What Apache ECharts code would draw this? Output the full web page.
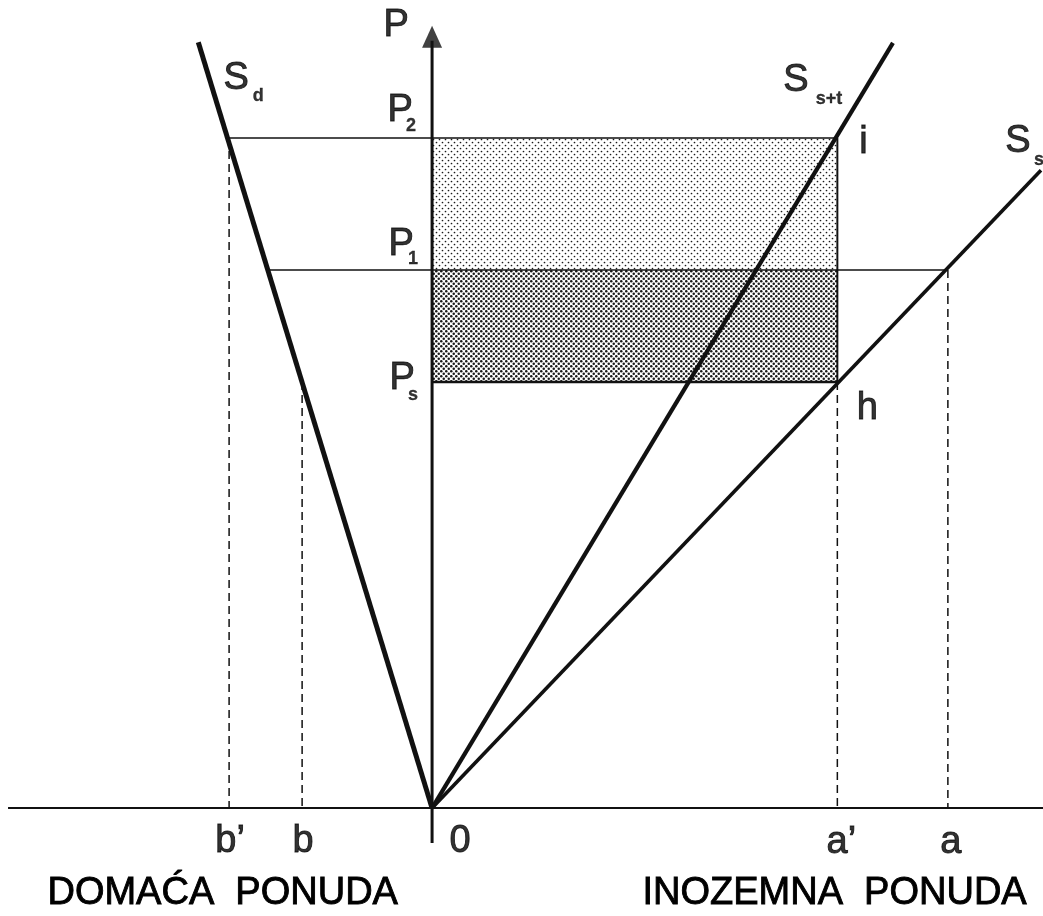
<!DOCTYPE html>
<html><head><meta charset="utf-8">
<script src="https://cdn.jsdelivr.net/npm/echarts@6/dist/echarts.min.js"></script>
<style>html,body{margin:0;padding:0;background:#fff}#c{width:1043px;height:916px}</style>
</head><body><div id="c"></div>
<script>
// ---- data ----
// price levels on the vertical axis P
const priceKeys = ['P2', 'P1', 'Ps'];
const priceValues = [10.0, 8.03, 6.36];
// quantity marks on the horizontal axis
const qtyLabels = ['b’', 'b', '0', 'a’', 'a'];
const qtyValues = [-3.03, -1.94, 0, 6.05, 7.70];
// quantity where the P1 line meets S_d
const p1LeftQty = -2.45;
// supply curves start at origin; their end points
const curveKeys = ['Sd', 'Sst', 'Ss'];
const curveEndX = [-3.49, 6.88, 9.09];
const curveEndY = [11.43, 11.42, 9.52];
// axis extents
const xAxisSpan = [-6.33, 9.12];
const yAxisSpan = [-0.52, 11.45];
const arrowTip = 11.51;

// ---- helpers ----
const P2 = priceValues[0], P1 = priceValues[1], Ps = priceValues[2];
const bP = qtyValues[0], b = qtyValues[1], aP = qtyValues[3], a = qtyValues[4];
const FONT = "'Liberation Sans', Arial, Helvetica, sans-serif";
const INK = '#000';

function seg(p, q, width, dash) {
  return {
    type: 'line', data: [p, q], symbol: 'none', silent: true, animation: false,
    lineStyle: { color: '#111', width: width, type: dash ? [8, 5] : 'solid', cap: 'butt' },
    z: 3
  };
}

function makePattern(size, pts, r) {
  const c = document.createElement('canvas');
  c.width = size; c.height = size;
  const g = c.getContext('2d');
  g.fillStyle = '#fff'; g.fillRect(0, 0, size, size);
  g.fillStyle = '#1a1a1a';
  pts.forEach(p => { g.beginPath(); g.arc(p[0], p[1], r, 0, Math.PI * 2); g.fill(); });
  return c;
}
const lightPat = makePattern(6, [[1.5, 1.5], [4.5, 4.5]], 0.85);
const darkPat = makePattern(5, [[1.25, 1.25], [3.75, 3.75]], 1.25);

const rects = [
  [0, P1, aP, P2, 0],
  [0, Ps, aP, P1, 1]
];

function lbl(pt, text, off, size, bold) {
  return {
    value: pt,
    label: {
      show: true, formatter: text, offset: off, position: 'inside',
      align: 'center', verticalAlign: 'middle',
      fontSize: size, fontFamily: FONT, color: INK,
      fontWeight: bold ? 'bold' : 'normal',
      textBorderColor: INK, textBorderWidth: bold ? 0.3 : 0.9
    }
  };
}
const M = 38, S = 18;
const labels = [
  lbl([0, arrowTip], 'P', [-36, -11], M),
  // price labels
  lbl([0, P2], 'P', [-32, -28], M), lbl([0, P2], '2', [-21, -12], S, true),
  lbl([0, P1], 'P', [-31, -26], M), lbl([0, P1], '1', [-19, -11], S, true),
  lbl([0, Ps], 'P', [-30, -3], M), lbl([0, Ps], 's', [-19, 13], S, true),
  // curve labels
  lbl([curveEndX[0], curveEndY[0]], 'S', [38, 36], M), lbl([curveEndX[0], curveEndY[0]], 'd', [60, 54], S, true),
  lbl([curveEndX[1], curveEndY[1]], 'S', [-97, 38], M), lbl([curveEndX[1], curveEndY[1]], 's+t', [-64, 56], S, true),
  lbl([curveEndX[2], curveEndY[2]], 'S', [-23, -29], M), lbl([curveEndX[2], curveEndY[2]], 's', [-2, -10], S, true),
  // points
  lbl([aP, P2], 'i', [26, 4], M),
  lbl([aP, Ps], 'h', [30, 27], M),
  // quantities
  lbl([qtyValues[0], 0], qtyLabels[0], [1, 33], M),
  lbl([qtyValues[1], 0], qtyLabels[1], [1, 33], M),
  lbl([qtyValues[2], 0], qtyLabels[2], [28, 33], M),
  lbl([qtyValues[3], 0], qtyLabels[3], [4, 34], M),
  lbl([qtyValues[4], 0], qtyLabels[4], [3, 34], M)
];

const series = [
  {
    type: 'custom', silent: true, animation: false, z: 1,
    data: rects,
    renderItem: function (params, api) {
      const p0 = api.coord([api.value(0), api.value(3)]);
      const p1 = api.coord([api.value(2), api.value(1)]);
      return {
        type: 'rect',
        shape: { x: p0[0], y: p0[1], width: p1[0] - p0[0], height: p1[1] - p0[1] },
        style: { fill: { image: api.value(4) === 0 ? lightPat : darkPat, repeat: 'repeat' }, stroke: null }
      };
    }
  },
  // axes
  seg([xAxisSpan[0], 0], [xAxisSpan[1], 0], 2),
  seg([0, yAxisSpan[0]], [0, yAxisSpan[1]], 3),
  // horizontal price lines
  seg([bP, P2], [aP, P2], 1.5),
  seg([p1LeftQty, P1], [a, P1], 1.5),
  seg([0, Ps], [aP, Ps], 2.5),
  seg([aP, P2], [aP, Ps], 2),
  // dashed guides
  seg([bP, P2], [bP, 0], 1.5, true),
  seg([b, Ps], [b, 0], 1.5, true),
  seg([aP, Ps], [aP, 0], 1.5, true),
  seg([a, P1], [a, 0], 1.5, true),
  // supply curves
  seg([0, 0], [curveEndX[0], curveEndY[0]], 5),
  seg([0, 0], [curveEndX[1], curveEndY[1]], 4.2),
  seg([0, 0], [curveEndX[2], curveEndY[2]], 3.6),
  // arrow head
  {
    type: 'scatter', silent: true, animation: false, z: 4,
    symbol: 'triangle', symbolSize: [20, 22],
    itemStyle: { color: '#111' },
    data: [[0, arrowTip]]
  },
  {
    type: 'scatter', silent: true, animation: false, z: 5,
    symbolSize: 1, itemStyle: { color: 'rgba(0,0,0,0)' },
    data: labels
  }
];

const chart = echarts.init(document.getElementById('c'), null, { renderer: 'canvas' });
chart.setOption({
  backgroundColor: '#fff',
  animation: false,
  grid: { left: 0, right: 0, top: 0, bottom: 0 },
  xAxis: { type: 'value', min: -6.45, max: 9.12, show: false },
  yAxis: { type: 'value', min: -1.61, max: 12.06, show: false },
  series: series,
  graphic: [
    { type: 'text', left: 47, top: 874, silent: true,
      style: { text: 'DOMAĆA  PONUDA', fontSize: 38, fontFamily: FONT, fill: INK, stroke: INK, lineWidth: 0.9 } },
    { type: 'text', left: 642, top: 874, silent: true,
      style: { text: 'INOZEMNA  PONUDA', fontSize: 38, fontFamily: FONT, fill: INK, stroke: INK, lineWidth: 0.9 } }
  ]
});
</script>
</body></html>
